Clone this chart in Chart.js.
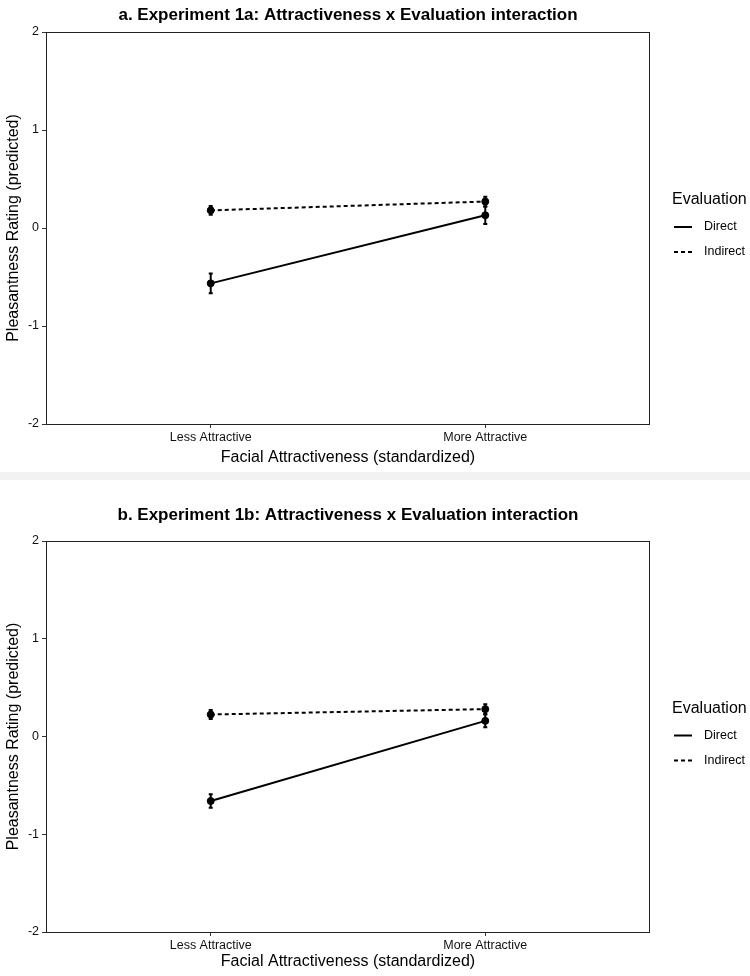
<!DOCTYPE html>
<html>
<head>
<meta charset="utf-8">
<script src="https://cdn.jsdelivr.net/npm/chart.js@4/dist/chart.umd.min.js"></script>
<style>
  body { margin: 0; background: #fff; width: 750px; height: 976px; position: relative; overflow: hidden; }
  .panel { position: absolute; left: 0; width: 750px; }
  .sep { position: absolute; left: 0; width: 750px; top: 472px; height: 8px; background: #f2f2f2; }
</style>
</head>
<body>
<div class="panel" style="top:0;height:472px"><canvas id="chartA" width="750" height="472"></canvas></div>
<div class="sep"></div>
<div class="panel" style="top:484px;height:492px"><canvas id="chartB" width="750" height="492"></canvas></div>
<script>
const categories = ["Less Attractive", "More Attractive"];
const seriesNames = ["Direct", "Indirect"];
const yTicks = [-2, -1, 0, 1, 2];

// Experiment 1a
const directA = [-0.565, 0.13];
const directErrA = [0.10, 0.09];
const indirectA = [0.18, 0.27];
const indirectErrA = [0.045, 0.05];

// Experiment 1b
const directB = [-0.66, 0.16];
const directErrB = [0.07, 0.065];
const indirectB = [0.225, 0.28];
const indirectErrB = [0.045, 0.05];

const FONT = "'Liberation Sans', Arial, sans-serif";
Chart.defaults.font.family = FONT;

// barres d'erreur + cadre du panneau
const errorBars = {
  id: "errorBars",
  beforeDatasetsDraw(chart) {
    const { ctx, scales: { x, y } } = chart;
    ctx.save();
    ctx.strokeStyle = "#000";
    ctx.lineWidth = 2;
    chart.data.datasets.forEach((ds) => {
      ds.data.forEach((pt, i) => {
        const px = x.getPixelForValue(pt.x);
        const top = y.getPixelForValue(pt.y + ds.errors[i]);
        const bot = y.getPixelForValue(pt.y - ds.errors[i]);
        ctx.beginPath();
        ctx.moveTo(px, top); ctx.lineTo(px, bot);
        ctx.moveTo(px - 2, top); ctx.lineTo(px + 2, top);
        ctx.moveTo(px - 2, bot); ctx.lineTo(px + 2, bot);
        ctx.stroke();
      });
    });
    ctx.restore();
  },
  afterDraw(chart) {
    const { ctx, chartArea: a } = chart;
    ctx.save();
    ctx.strokeStyle = "#222";
    ctx.lineWidth = 1;
    ctx.strokeRect(a.left + 0.5, a.top + 0.5, a.right - a.left - 1, a.bottom - a.top);
    ctx.restore();
  }
};

// titre et légende façon ggplot
const panelText = {
  id: "panelText",
  afterDraw(chart, args, opts) {
    const { ctx, chartArea: a } = chart;
    ctx.save();
    ctx.fillStyle = "#000";
    ctx.textBaseline = "middle";
    ctx.textAlign = "center";
    ctx.font = "bold 17px " + FONT;
    ctx.fillText(opts.title, (a.left + a.right) / 2, opts.titleY);

    const cy = (a.top + a.bottom) / 2;
    ctx.textAlign = "left";
    ctx.font = "16px " + FONT;
    ctx.fillText("Evaluation", 672, cy - 28);
    ctx.font = "12.5px " + FONT;
    chart.data.datasets.forEach((ds, i) => {
      const ly = cy - 1 + i * 25;
      ctx.beginPath();
      ctx.lineWidth = 2;
      ctx.strokeStyle = "#000";
      ctx.setLineDash(ds.borderDash || []);
      ctx.moveTo(674, ly);
      ctx.lineTo(692, ly);
      ctx.stroke();
      ctx.setLineDash([]);
      ctx.fillText(ds.label, 704, ly);
    });
    ctx.restore();
  }
};

function makeChart(id, title, titleY, padTop, xHeight, direct, directErr, indirect, indirectErr) {
  const toPoints = (vals) => vals.map((v, i) => ({ x: i + 1, y: v }));
  new Chart(document.getElementById(id), {
    type: "line",
    data: {
      datasets: [
        {
          label: seriesNames[0],
          data: toPoints(direct),
          errors: directErr,
          borderColor: "#000",
          borderWidth: 2,
          pointRadius: 3.5,
          pointBackgroundColor: "#000",
          pointBorderColor: "#000",
          pointBorderWidth: 1
        },
        {
          label: seriesNames[1],
          data: toPoints(indirect),
          errors: indirectErr,
          borderColor: "#000",
          borderWidth: 2,
          borderDash: [4, 3],
          pointRadius: 3.5,
          pointBackgroundColor: "#000",
          pointBorderColor: "#000",
          pointBorderWidth: 1
        }
      ]
    },
    options: {
      responsive: false,
      animation: false,
      layout: { padding: { top: padTop, right: 100, left: 0, bottom: 0 } },
      plugins: {
        legend: { display: false },
        tooltip: { enabled: false },
        title: { display: false },
        panelText: { title: title, titleY: titleY }
      },
      scales: {
        x: {
          type: "linear",
          min: 0.4,
          max: 2.6,
          afterBuildTicks: (s) => { s.ticks = categories.map((c, i) => ({ value: i + 1 })); },
          afterFit: (s) => { s.height = xHeight; },
          ticks: {
            callback: (v) => categories[v - 1],
            autoSkip: false,
            maxRotation: 0,
            color: "#111",
            font: { size: 12.5 },
            padding: 2
          },
          grid: { drawOnChartArea: false, tickLength: 4, color: "#333" },
          border: { display: false },
          title: {
            display: true,
            text: "Facial Attractiveness (standardized)",
            color: "#000",
            font: { size: 16 },
            padding: { top: 0, bottom: 5 }
          }
        },
        y: {
          min: -2,
          max: 2,
          afterBuildTicks: (s) => { s.ticks = yTicks.map((v) => ({ value: v })); },
          afterFit: (s) => { s.width = 46; },
          ticks: { color: "#111", font: { size: 12.5 }, padding: 3 },
          grid: { drawOnChartArea: false, tickLength: 4, color: "#333" },
          border: { display: false },
          title: {
            display: true,
            text: "Pleasantness Rating (predicted)",
            color: "#000",
            font: { size: 16 },
            padding: { top: 4, bottom: 0 }
          }
        }
      }
    },
    plugins: [errorBars, panelText]
  });
}

makeChart("chartA", "a. Experiment 1a: Attractiveness x Evaluation interaction", 15, 32, 48,
  directA, directErrA, indirectA, indirectErrA);
makeChart("chartB", "b. Experiment 1b: Attractiveness x Evaluation interaction", 31, 57, 44,
  directB, directErrB, indirectB, indirectErrB);
</script>
</body>
</html>
